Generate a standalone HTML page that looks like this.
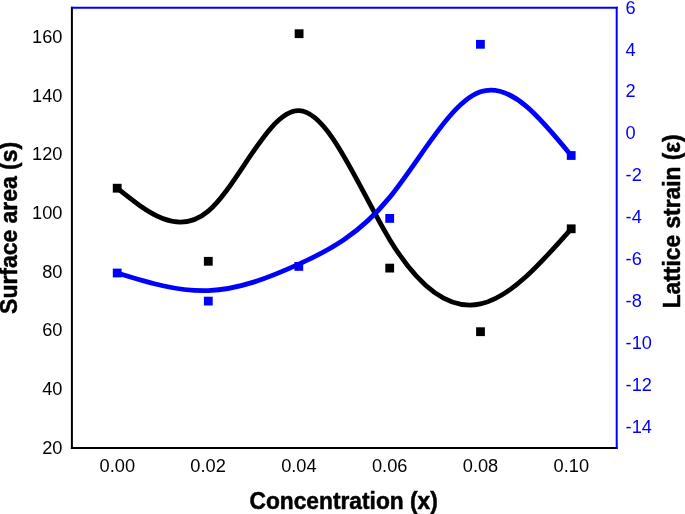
<!DOCTYPE html>
<html><head><meta charset="utf-8"><title>Chart</title>
<style>
html,body{margin:0;padding:0;background:#fff;}
body{width:685px;height:514px;overflow:hidden;}
svg{display:block;font-family:"Liberation Sans",Arial,sans-serif;}
.tl{font-size:19.2px;fill:#000;}
.tr{font-size:19.2px;fill:#0000ff;}
.ttl{font-size:23.7px;font-weight:bold;fill:#000;stroke:#000;stroke-width:0.5px;stroke-linejoin:round;}
</style></head><body>
<svg width="685" height="514" viewBox="0 0 685 514">
<rect width="685" height="514" fill="#fff"/>
<path d="M117.20 188.20 C147.57 212.57 177.93 236.93 208.25 211.18 C238.57 185.43 268.83 109.57 299.07 110.70 C329.30 111.83 359.50 189.97 389.73 239.63 C419.97 289.30 450.23 310.50 480.48 303.95 C510.73 297.40 540.97 263.10 571.20 228.80" fill="none" stroke="#000" stroke-width="4.8" stroke-linecap="round" stroke-linejoin="round"/>
<path d="M117.20 273.00 C147.57 282.37 177.93 291.73 208.20 290.63 C238.47 289.53 268.63 277.97 298.87 264.18 C329.10 250.40 359.40 234.40 389.67 197.38 C419.93 160.37 450.17 102.33 480.42 91.85 C510.67 81.37 540.93 118.43 571.20 155.50" fill="none" stroke="#0000ff" stroke-width="4.8" stroke-linecap="round" stroke-linejoin="round"/>
<rect x="112.80" y="183.80" width="8.8" height="8.8" fill="#000"/>
<rect x="203.90" y="256.90" width="8.8" height="8.8" fill="#000"/>
<rect x="294.70" y="29.30" width="8.8" height="8.8" fill="#000"/>
<rect x="385.30" y="263.70" width="8.8" height="8.8" fill="#000"/>
<rect x="476.10" y="327.30" width="8.8" height="8.8" fill="#000"/>
<rect x="566.80" y="224.40" width="8.8" height="8.8" fill="#000"/>
<rect x="112.80" y="268.60" width="8.8" height="8.8" fill="#0000ff"/>
<rect x="203.90" y="296.70" width="8.8" height="8.8" fill="#0000ff"/>
<rect x="294.40" y="262.00" width="8.8" height="8.8" fill="#0000ff"/>
<rect x="385.30" y="214.00" width="8.8" height="8.8" fill="#0000ff"/>
<rect x="476.00" y="39.90" width="8.8" height="8.8" fill="#0000ff"/>
<rect x="566.80" y="151.10" width="8.8" height="8.8" fill="#0000ff"/>
<line x1="71.90" y1="6.85" x2="71.90" y2="449.00" stroke="#000" stroke-width="2"/>
<line x1="70.90" y1="448.00" x2="617.70" y2="448.00" stroke="#000" stroke-width="2"/>
<line x1="70.90" y1="7.85" x2="617.70" y2="7.85" stroke="#0000ff" stroke-width="2"/>
<line x1="616.70" y1="6.85" x2="616.70" y2="449.00" stroke="#0000ff" stroke-width="2"/>
<text class="tl" transform="translate(62.5,453.77) scale(0.95,1)" text-anchor="end">20</text>
<text class="tl" transform="translate(62.5,395.09) scale(0.95,1)" text-anchor="end">40</text>
<text class="tl" transform="translate(62.5,336.40) scale(0.95,1)" text-anchor="end">60</text>
<text class="tl" transform="translate(62.5,277.71) scale(0.95,1)" text-anchor="end">80</text>
<text class="tl" transform="translate(62.5,219.03) scale(0.95,1)" text-anchor="end">100</text>
<text class="tl" transform="translate(62.5,160.34) scale(0.95,1)" text-anchor="end">120</text>
<text class="tl" transform="translate(62.5,101.65) scale(0.95,1)" text-anchor="end">140</text>
<text class="tl" transform="translate(62.5,42.97) scale(0.95,1)" text-anchor="end">160</text>
<text class="tr" transform="translate(625.6,13.62) scale(0.95,1)">6</text>
<text class="tr" transform="translate(625.6,55.54) scale(0.95,1)">4</text>
<text class="tr" transform="translate(625.6,97.46) scale(0.95,1)">2</text>
<text class="tr" transform="translate(625.6,139.38) scale(0.95,1)">0</text>
<text class="tr" transform="translate(625.6,181.30) scale(0.95,1)">-2</text>
<text class="tr" transform="translate(625.6,223.22) scale(0.95,1)">-4</text>
<text class="tr" transform="translate(625.6,265.14) scale(0.95,1)">-6</text>
<text class="tr" transform="translate(625.6,307.06) scale(0.95,1)">-8</text>
<text class="tr" transform="translate(625.6,348.98) scale(0.95,1)">-10</text>
<text class="tr" transform="translate(625.6,390.90) scale(0.95,1)">-12</text>
<text class="tr" transform="translate(625.6,432.81) scale(0.95,1)">-14</text>
<text class="tl" transform="translate(117.30,472.30) scale(0.95,1)" text-anchor="middle">0.00</text>
<text class="tl" transform="translate(208.10,472.30) scale(0.95,1)" text-anchor="middle">0.02</text>
<text class="tl" transform="translate(298.90,472.30) scale(0.95,1)" text-anchor="middle">0.04</text>
<text class="tl" transform="translate(389.70,472.30) scale(0.95,1)" text-anchor="middle">0.06</text>
<text class="tl" transform="translate(480.50,472.30) scale(0.95,1)" text-anchor="middle">0.08</text>
<text class="tl" transform="translate(571.30,472.30) scale(0.95,1)" text-anchor="middle">0.10</text>
<text class="ttl" style="font-size:23.2px" x="249.5" y="508.7" textLength="188.3" lengthAdjust="spacingAndGlyphs">Concentration (x)</text>
<text class="ttl" transform="translate(17,313.9) rotate(-90)" textLength="172" lengthAdjust="spacingAndGlyphs">Surface area (s)</text>
<text class="ttl" transform="translate(679.8,308.3) rotate(-90)" textLength="174" lengthAdjust="spacingAndGlyphs">Lattice strain (ε)</text>
</svg></body></html>
